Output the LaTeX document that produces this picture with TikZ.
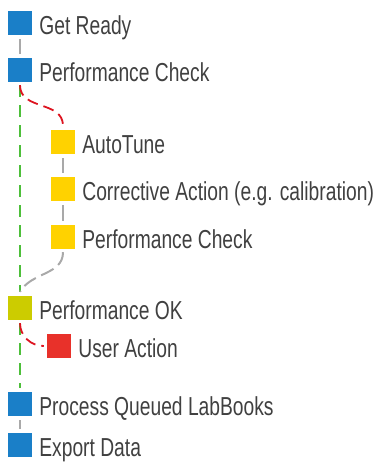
\documentclass[tikz,border=0pt]{standalone}
\usepackage{fontspec}
\setmainfont{Liberation Sans}[FakeStretch=0.74]
\usetikzlibrary{positioning}
\definecolor{stepblue}{HTML}{1A7FC8}
\definecolor{stepyellow}{HTML}{FFD200}
\definecolor{stepolive}{HTML}{CCCC00}
\definecolor{stepred}{HTML}{E8312A}
\definecolor{linkgray}{HTML}{A9A9A9}
\definecolor{linkgreen}{HTML}{4DBF3A}
\definecolor{linkred}{HTML}{DD1420}
\definecolor{labelgray}{HTML}{404040}

\begin{document}
\begin{tikzpicture}[x=1pt, y=1pt,
    stepbox/.style={rectangle, minimum size=24pt, inner sep=0pt, fill=#1},
    steptext/.style={inner sep=0pt, text=labelgray, font=\fontsize{26}{30}\selectfont},
    graylink/.style={draw=linkgray, line width=2pt},
    graydash/.style={draw=linkgray, line width=2pt, dash pattern=on 14pt off 6pt},
    greendash/.style={draw=linkgreen, line width=1.8pt, dash pattern=on 12pt off 8pt},
    reddash/.style={draw=linkred, line width=1.8pt, dash pattern=on 11pt off 6pt}]
  % Frame of the picture
  \useasboundingbox (0,0) rectangle (376,-462);
  % Steps: name / x / y / colour / text
  \foreach \name/\x/\y/\col/\txt in {
      gr/20/23/stepblue/Get Ready,
      pc/20/70/stepblue/Performance Check,
      at/63/142/stepyellow/AutoTune,
      ca/63/189/stepyellow/Corrective Action (e.g. calibration),
      pc2/63/237/stepyellow/Performance Check,
      ok/20/308/stepolive/Performance OK,
      ua/59/346/stepred/User Action,
      pq/20/404/stepblue/Process Queued LabBooks,
      ex/20/445/stepblue/Export Data} {
    \node[stepbox=\col] (\name) at (\x,-\y) {};
    \node[steptext, right=7pt of \name.south east, anchor=base west, yshift=1pt] (\name-t) {\txt};
  }
  % Main line
  \draw[graylink] ([yshift=-4pt]gr.south) -- ([yshift=4pt]pc.north);
  \draw[greendash] ([yshift=-3pt]pc.south) -- ([yshift=4pt]ok.north);
  \draw[greendash] ([yshift=-3pt]ok.south) -- ([yshift=4pt]pq.north);
  \draw[graylink] ([yshift=-4pt]pq.south) -- ([yshift=4pt]ex.north);
  % Branch when the check fails
  \draw[reddash] ([yshift=-3pt]pc.south) to[out=-90, in=90, looseness=1.1] ([yshift=4pt]at.north);
  \draw[graylink] ([yshift=-4pt]at.south) -- ([yshift=4pt]ca.north);
  \draw[graylink] ([yshift=-4pt]ca.south) -- ([yshift=4pt]pc2.north);
  \draw[graydash] ([yshift=-3pt]pc2.south) to[out=-90, in=60] ([yshift=4pt]ok.north);
  % User action
  \draw[reddash] ([yshift=-3pt]ok.south) to[out=-90, in=180] ([xshift=-3pt]ua.west);
\end{tikzpicture}
\end{document}
